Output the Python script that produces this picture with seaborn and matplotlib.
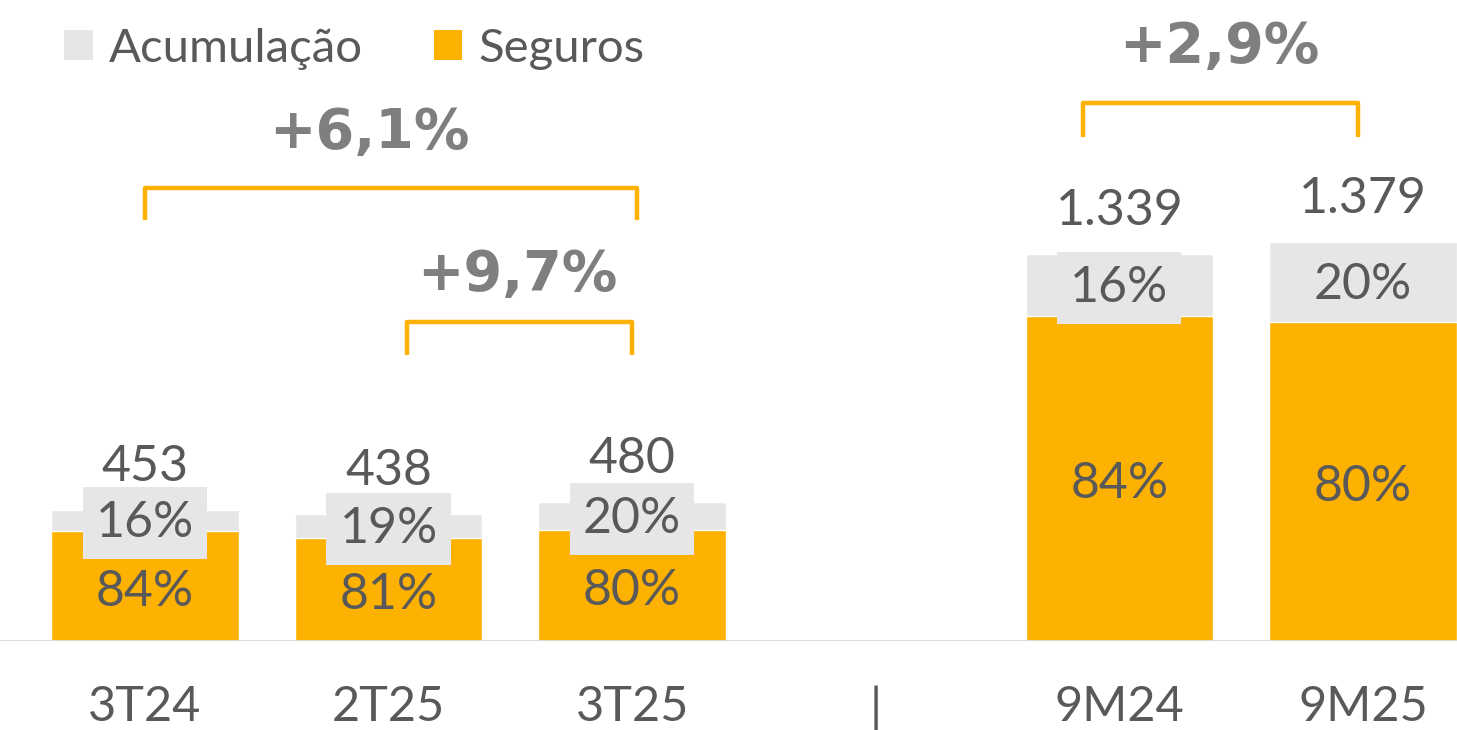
import matplotlib
matplotlib.use("Agg")
import matplotlib.pyplot as plt
from matplotlib.patches import Patch
import seaborn as sns
import pandas as pd

sns.set_theme(style="white")
plt.rcParams['font.family'] = ['Lato', 'DejaVu Sans']

# data
periods = ["3T24", "2T25", "3T25", "|", "9M24", "9M25"]
totals = [453, 438, 480, 0, 1339, 1379]
total_labels = ["453", "438", "480", "", "1.339", "1.379"]
seguros_pct = [84, 81, 80, 0, 84, 80]
acum_pct = [16, 19, 20, 0, 16, 20]
growth_labels = ["+6,1%", "+9,7%", "+2,9%"]

GRAY = "#E6E6E6"
ORANGE = "#FDB100"
TXT = "#595959"

df = pd.DataFrame({"period": periods, "total": totals,
                   "seg_pct": seguros_pct, "acu_pct": acum_pct})
df["seguros"] = df["total"] * df["seg_pct"] / 100

fig = plt.figure(figsize=(14.57, 7.30), dpi=100)
ax = fig.add_axes([0, 0.122, 1, 0.878])

sns.barplot(data=df, x="period", y="total", order=periods, color=GRAY,
            saturation=1, width=0.77, ax=ax)
sns.barplot(data=df, x="period", y="seguros", order=periods, color=ORANGE,
            saturation=1, width=0.77, ax=ax)

ax.set_xlim(-0.595, 5.386)
ax.set_ylim(0, 2218)

for i, row in df.iterrows():
    if row["total"] <= 0:
        continue
    seg = row["seguros"]
    tot = row["total"]
    ax.text(i, seg / 2 - 20, f"{row['seg_pct']}%", ha="center", va="center",
            fontsize=36, color=TXT)
    ax.text(i, (seg + tot) / 2 - 10, f"{row['acu_pct']}%", ha="center", va="center",
            fontsize=36, color=TXT,
            bbox=dict(facecolor=GRAY, edgecolor="none", boxstyle="square,pad=0.26"))
    ax.text(i, tot + 150, total_labels[i], ha="center", va="center",
            fontsize=36, color=TXT)

# growth brackets
brackets = [(0.0, 2.02, 1567, 1457), (1.075, 2.0, 1104, 990), (3.85, 4.98, 1861, 1744)]
text_pos = [(0.92, 1758), (1.53, 1266), (4.41, 2055)]
for (x0, x1, ytop, ybot), lab, (tx, ty) in zip(brackets, growth_labels, text_pos):
    ax.plot([x0, x0, x1, x1], [ybot, ytop, ytop, ybot], color=ORANGE, lw=3.2,
            solid_joinstyle="round", solid_capstyle="butt")
    ax.text(tx, ty, lab, ha="center", va="center", fontsize=40,
            fontweight="bold", family="DejaVu Sans", color="#7F7F7F")

ax.axhline(0, color="#D9D9D9", lw=2)
ax.set_xlabel("")
ax.set_ylabel("")
ax.set_yticks([])
ax.tick_params(axis="x", length=0, pad=32, labelsize=35, labelcolor=TXT)
for s in ax.spines.values():
    s.set_visible(False)

handles = [Patch(facecolor=GRAY, edgecolor="none", label="Acumulação"),
           Patch(facecolor=ORANGE, edgecolor="none", label="Seguros")]
fig.legend(handles=handles, loc="upper left", bbox_to_anchor=(0.015, 1.02),
           ncol=2, frameon=False, fontsize=34, labelcolor=TXT,
           handlelength=0.6, handleheight=0.6, handletextpad=0.35,
           columnspacing=1.5)

fig.savefig("out.png", dpi=100)
